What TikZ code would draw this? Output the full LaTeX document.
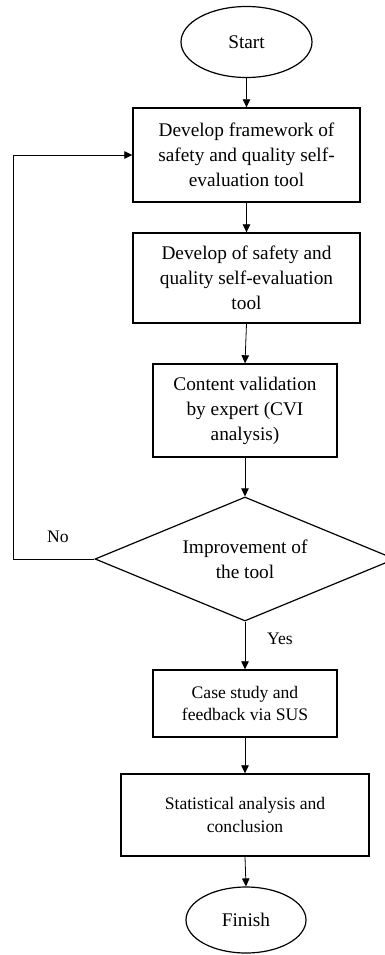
\documentclass[tikz,border=0pt]{standalone}
\usepackage{fontspec}
\setmainfont{Liberation Serif}
\usetikzlibrary{shapes.geometric,arrows.meta}
\begin{document}
\begin{tikzpicture}[x=1pt,y=-1pt,
  big/.style={font=\fontsize{19.3}{25}\selectfont},
  small/.style={font=\fontsize{17.6}{22.5}\selectfont},
  stepbox/.style={draw,line width=1.4pt,rectangle,inner sep=0pt,align=center},
  term/.style={draw,line width=1.2pt,ellipse,inner sep=0pt,big},
  decide/.style={draw,line width=1.2pt,diamond,aspect=2.4,inner sep=0pt,align=center,big},
  arr/.style={line width=0.8pt,-{Triangle[length=8pt,width=7.5pt]}},
  conn/.style={line width=0.8pt}]
\clip (0,0) rectangle (385,955);
\node[term,minimum width=131pt,minimum height=71pt] (start) at (246.5,42) {Start};
\node[stepbox,big,minimum width=227pt,minimum height=94pt] (b1) at (246.5,155)
  {Develop framework of\\safety and quality self-\\evaluation tool};
\node[stepbox,big,minimum width=227pt,minimum height=90pt] (b2) at (246.5,278)
  {Develop of safety and\\quality self-evaluation\\tool};
\node[stepbox,big,minimum width=184pt,minimum height=93pt] (b3) at (245,410.5)
  {Content validation\\by expert (CVI\\analysis)};
\node[decide,minimum width=300pt,minimum height=124pt] (dec) at (245,559)
  {Improvement of\\the tool};
\node[stepbox,small,minimum width=184pt,minimum height=67pt] (b4) at (245,703.5)
  {Case study and\\feedback via SUS};
\node[stepbox,small,minimum width=248pt,minimum height=82pt] (b5) at (245,815)
  {Statistical analysis and\\conclusion};
\node[term,minimum width=120pt,minimum height=66pt] (fin) at (246,920) {Finish};
\node[small,inner sep=0pt] (nolab) at (58,537) {No};
\node[small,inner sep=0pt] (yeslab) at (280,639) {Yes};
\coordinate (corner) at (13.3,559);
\draw[arr] (start.south) -- (b1.north);
\draw[arr] (b1.south) -- (b2.north);
\draw[arr] (b2.south) -- (b3.north);
\draw[arr] (b3.south) -- (dec.north);
\draw[arr] (dec.south) -- (b4.north);
\draw[arr] (b4.south) -- (b5.north);
\draw[arr] (b5.south) -- (fin.north);
\draw[arr] (dec.west) -- (corner) |- (b1.west);
\end{tikzpicture}
\end{document}
